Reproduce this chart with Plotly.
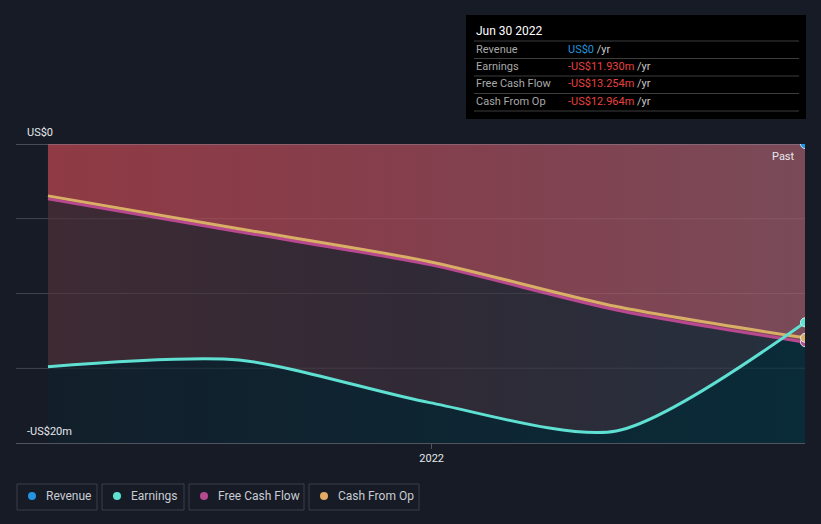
import plotly.graph_objects as go

# ---- data ----
dates = ["2021-06-30", "2021-09-30", "2021-12-31", "2022-03-31", "2022-06-30"]
earnings = [-14.9, -14.45, -17.3, -19.2, -11.93]
free_cash_flow = [-3.67, -5.87, -8.07, -11.1, -13.254]
cash_from_op = [-3.47, -5.67, -7.87, -10.87, -12.964]
revenue_dates = ["2022-06-30"]
revenue = [0.0]
x_range = ["2021-06-14 14:00", "2022-06-30"]
y_ticks = [0, -20]
y_tick_labels = ["US$0", "-US$20m"]
grid_values = [-5, -10, -15]
tooltip_title = "Jun 30 2022"
tooltip_rows = [("Revenue", "US$0", "#2394df"),
                ("Earnings", "-US$11.930m", "#e8403f"),
                ("Free Cash Flow", "-US$13.254m", "#e8403f"),
                ("Cash From Op", "-US$12.964m", "#e8403f")]
legend_items = [("Revenue", "#2394df"), ("Earnings", "#5ee0d2"),
                ("Free Cash Flow", "#b8488f"), ("Cash From Op", "#e2ad63")]

W, H = 821, 524
PL, PR, PT, PB = 16, 805, 144, 443
BG = "#161b26"
SMOOTH = 0.75


def px(x):
    return (x - PL) / (PR - PL)


def py(y):
    return (PB - y) / (PB - PT)


zeros = [0] * len(dates)
floor = [-20] * len(dates)
fig = go.Figure()

# region between 0 and earnings (dark reddish)
fig.add_trace(go.Scatter(x=dates, y=zeros, mode="lines", line=dict(width=0),
                         hoverinfo="skip", showlegend=False))
fig.add_trace(go.Scatter(x=dates, y=earnings, mode="lines",
                         line=dict(width=0, shape="spline", smoothing=SMOOTH),
                         fill="tonexty",
                         fillgradient=dict(type="horizontal",
                                           colorscale=[[0, "#3e2a33"], [0.5, "#302a36"], [1, "#25303e"]]),
                         hoverinfo="skip", showlegend=False))
# region below earnings (teal)
fig.add_trace(go.Scatter(x=dates, y=floor, mode="lines", line=dict(width=0),
                         hoverinfo="skip", showlegend=False))
fig.add_trace(go.Scatter(x=dates, y=earnings, mode="lines",
                         line=dict(width=0, shape="spline", smoothing=SMOOTH),
                         fill="tonexty",
                         fillgradient=dict(type="horizontal",
                                           colorscale=[[0, "#121f2b"], [1, "#0a2b38"]]),
                         hoverinfo="skip", showlegend=False))
# region above free cash flow (red)
fig.add_trace(go.Scatter(x=dates, y=zeros, mode="lines", line=dict(width=0),
                         hoverinfo="skip", showlegend=False))
fig.add_trace(go.Scatter(x=dates, y=free_cash_flow, mode="lines",
                         line=dict(width=0, shape="spline", smoothing=SMOOTH),
                         fill="tonexty",
                         fillgradient=dict(type="horizontal",
                                           colorscale=[[0, "#8f3a44"], [0.5, "#843f4d"], [1, "#7a4a58"]]),
                         hoverinfo="skip", showlegend=False))

# zero line
fig.add_trace(go.Scatter(x=x_range, y=[0, 0], mode="lines",
                         line=dict(color="rgba(150,150,165,0.55)", width=1.5),
                         hoverinfo="skip", showlegend=False))

# lines
fig.add_trace(go.Scatter(x=dates, y=free_cash_flow, mode="lines",
                         line=dict(color="#b8488f", width=3, shape="spline", smoothing=SMOOTH),
                         showlegend=False))
fig.add_trace(go.Scatter(x=dates, y=cash_from_op, mode="lines",
                         line=dict(color="#d9ae66", width=3, shape="spline", smoothing=SMOOTH),
                         showlegend=False))
fig.add_trace(go.Scatter(x=dates, y=earnings, mode="lines",
                         line=dict(color="#5ee0d2", width=3, shape="spline", smoothing=SMOOTH),
                         showlegend=False))

# end markers
fig.add_trace(go.Scatter(x=[dates[-1]], y=[free_cash_flow[-1]], mode="markers",
                         marker=dict(color="#b8488f", size=9, line=dict(color="#e8e8f0", width=1)),
                         showlegend=False))
fig.add_trace(go.Scatter(x=[dates[-1]], y=[cash_from_op[-1]], mode="markers",
                         marker=dict(color="#d9ae66", size=9, line=dict(color="#e8e8f0", width=1)),
                         showlegend=False))
fig.add_trace(go.Scatter(x=[dates[-1]], y=[earnings[-1]], mode="markers",
                         marker=dict(color="#5ee0d2", size=9, line=dict(color="#c8f5f0", width=1)),
                         showlegend=False))
fig.add_trace(go.Scatter(x=revenue_dates, y=revenue, mode="markers",
                         marker=dict(color="#2394df", size=9, line=dict(color="#bfe0f8", width=1)),
                         showlegend=False))

shapes = []
annotations = []

# grid lines over fills
for g in grid_values:
    shapes.append(dict(type="line", xref="paper", yref="y", x0=0, x1=1, y0=g, y1=g,
                       line=dict(color="rgba(255,255,255,0.08)", width=1), layer="above"))

# y labels
for v, lab in zip(y_ticks, y_tick_labels):
    annotations.append(dict(x=px(25), y=v, xref="paper", yref="y", text=lab, showarrow=False,
                            xanchor="left", yanchor="bottom", yshift=3,
                            font=dict(color="#e6e8ec", size=11)))
annotations.append(dict(x=px(797), y=py(156), xref="paper", yref="paper", text="Past",
                        showarrow=False, xanchor="right", yanchor="middle",
                        font=dict(color="#e6e8ec", size=11)))

# tooltip
shapes.append(dict(type="rect", xref="paper", yref="paper", x0=px(466), x1=px(806),
                   y0=py(15), y1=py(119), fillcolor="#000000", line=dict(width=0), layer="above"))
annotations.append(dict(x=px(474), y=py(31), xref="paper", yref="paper", text=tooltip_title,
                        showarrow=False, xanchor="left", yanchor="middle",
                        font=dict(color="#ffffff", size=12)))
for i, (lab, val, col) in enumerate(tooltip_rows):
    yc = 49 + i * 17.5
    sep = 41 + i * 17.5
    shapes.append(dict(type="line", xref="paper", yref="paper", x0=px(474), x1=px(799),
                       y0=py(sep), y1=py(sep), line=dict(color="#3c3c3c", width=1), layer="above"))
    annotations.append(dict(x=px(474), y=py(yc), xref="paper", yref="paper", text=lab,
                            showarrow=False, xanchor="left", yanchor="middle",
                            font=dict(color="#a8a8a8", size=11)))
    annotations.append(dict(x=px(566), y=py(yc), xref="paper", yref="paper",
                            text=f"<span style='color:{col}'>{val}</span> <span style='color:#c8c8c8'>/yr</span>",
                            showarrow=False, xanchor="left", yanchor="middle",
                            font=dict(size=11)))
shapes.append(dict(type="line", xref="paper", yref="paper", x0=px(474), x1=px(799),
                   y0=py(111), y1=py(111), line=dict(color="#3c3c3c", width=1), layer="above"))

# legend
boxes = [(17, 97), (102, 184), (189, 304), (309, 419)]
for (lab, col), (bx0, bx1) in zip(legend_items, boxes):
    shapes.append(dict(type="rect", xref="paper", yref="paper", x0=px(bx0), x1=px(bx1),
                       y0=py(484), y1=py(510), fillcolor="rgba(0,0,0,0)",
                       line=dict(color="#3a3f4b", width=1)))
    shapes.append(dict(type="circle", xref="paper", yref="paper", x0=px(bx0 + 11), x1=px(bx0 + 19),
                       y0=py(492), y1=py(500), fillcolor=col, line=dict(width=0)))
    annotations.append(dict(x=px(bx0 + 27), y=py(496), xref="paper", yref="paper", text=lab,
                            showarrow=False, xanchor="left", yanchor="middle",
                            font=dict(color="#c9ccd2", size=12)))

fig.update_layout(
    width=W, height=H,
    margin=dict(l=PL, r=W - PR, t=PT, b=H - PB),
    paper_bgcolor=BG, plot_bgcolor=BG,
    font=dict(family="Roboto, sans-serif", color="#e6e8ec"),
    shapes=shapes, annotations=annotations,
    hovermode=False,
    xaxis=dict(type="date", range=x_range,
               tickvals=["2022-01-01"], ticktext=["2022"],
               ticks="outside", ticklen=5, tickcolor="#50545e",
               tickfont=dict(color="#e6e8ec", size=11),
               showgrid=False, zeroline=False, showline=True, linecolor="#50545e", linewidth=1),
    yaxis=dict(range=[-20, 0], tickvals=[0, -5, -10, -15, -20], showticklabels=False,
               showgrid=True, gridcolor="#30353f", gridwidth=1, zeroline=False, showline=False),
)

fig.write_html("out.html")
